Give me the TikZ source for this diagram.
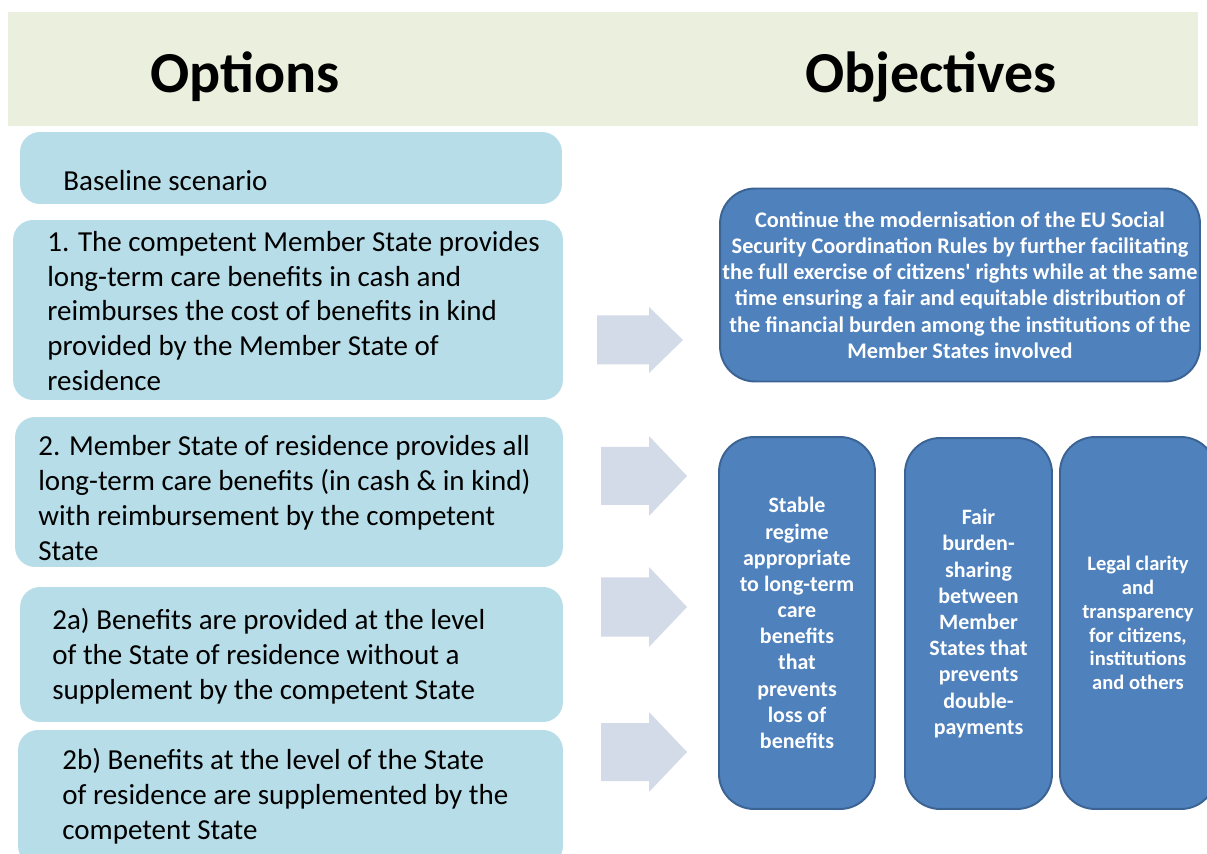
\documentclass[tikz,border=0pt]{standalone}
\usepackage{fontspec}
\setmainfont{Carlito}
\usetikzlibrary{positioning}
\definecolor{bandgreen}{HTML}{EBEFDE}
\definecolor{optblue}{HTML}{B7DDE8}
\definecolor{objblue}{HTML}{4F81BD}
\definecolor{objedge}{HTML}{3B6393}
\definecolor{arrowgrey}{HTML}{D3DBE8}
\tikzset{>=latex,
  optbox/.style={fill=optblue, rounded corners=0.4cm, inner sep=0pt},
  opttext/.style={anchor=west, align=left, inner sep=0pt, font=\fontsize{16.5}{19.8}\selectfont},
  objbox/.style={fill=objblue, draw=objedge, line width=1.1pt, rounded corners=0.7cm, inner sep=0pt,
    text=white, align=center, font=\bfseries\fontsize{12.5}{14.9}\selectfont},
  headtext/.style={anchor=base, font=\bfseries\fontsize{33}{40}\selectfont}}

\begin{document}
\begin{tikzpicture}[x=0.02cm, y=-0.02cm]
    \clip (0,0) rectangle (1207,854);
    \fill[white] (0,0) rectangle (1207,854);
    \fill[bandgreen] (8,12) rectangle (1198,126);
    \node[headtext] (opthead) at (245,93) {Options};
    \node[headtext] (objhead) at (931,93) {Objectives};
    % options
    \node[optbox, minimum width=10.84cm, minimum height=1.44cm] (base) at (291,168) {};
    \node[opttext] (baset) at (63,181) {Baseline scenario};
    \node[optbox, minimum width=11cm, minimum height=3.6cm] (opta) at (288,310) {};
    \node[opttext] (optat) at (47,311) {1. The competent Member State provides\\long-term care benefits in cash and\\reimburses the cost of benefits in kind\\provided by the Member State of\\residence};
    \node[optbox, minimum width=10.96cm, minimum height=3cm] (optb) at (289,492) {};
    \node[opttext] (optbt) at (38,498) {2. Member State of residence provides all\\long-term care benefits (in cash \& in kind)\\with reimbursement by the competent\\State};
    \node[optbox, minimum width=10.86cm, minimum height=2.7cm] (optc) at (291.5,654.5) {};
    \node[opttext] (optct) at (52,656) {2a) Benefits are provided at the level\\of the State of residence without a\\supplement by the competent State};
    \node[optbox, minimum width=10.9cm, minimum height=2.72cm] (optd) at (290.5,798) {};
    \node[opttext] (optdt) at (62,796) {2b) Benefits at the level of the State\\of residence are supplemented by the\\competent State};
    % arrows
    \foreach \a/\y/\s/\h/\b in {597/340/24.5/33/683, 601/476/29/40/687, 601/607/29.5/40/687, 601/752/29/40/687}
        \fill[arrowgrey] (\a,\y-\s) -- (649,\y-\s) -- (649,\y-\h) -- (\b,\y) -- (649,\y+\h) -- (649,\y+\s) -- (\a,\y+\s) -- cycle;
    % objectives
    \node[objbox, minimum width=9.6cm, minimum height=3.86cm, font=\bfseries\fontsize{12.7}{14.9}\selectfont] (goal) at (960,285) {Continue the modernisation of the EU Social\\Security Coordination Rules by further facilitating\\the full exercise of citizens\textquotesingle\ rights while at the same\\time ensuring a fair and equitable distribution of\\the financial burden among the institutions of the\\Member States involved};
    \node[objbox, minimum width=3.12cm, minimum height=7.44cm] (stable) at (797,623) {Stable\\regime\\appropriate\\to long-term\\care\\benefits\\that\\prevents\\loss of\\benefits};
    \node[objbox, minimum width=2.94cm, minimum height=7.42cm] (fair) at (978.5,623.5) {Fair\\burden-\\sharing\\between\\Member\\States that\\prevents\\double-\\payments};
    \node[objbox, minimum width=3.12cm, minimum height=7.44cm, font=\bfseries\fontsize{11.7}{13.6}\selectfont] (legal) at (1138,623) {Legal clarity\\and\\transparency\\for citizens,\\institutions\\and others};
\end{tikzpicture}
\end{document}
